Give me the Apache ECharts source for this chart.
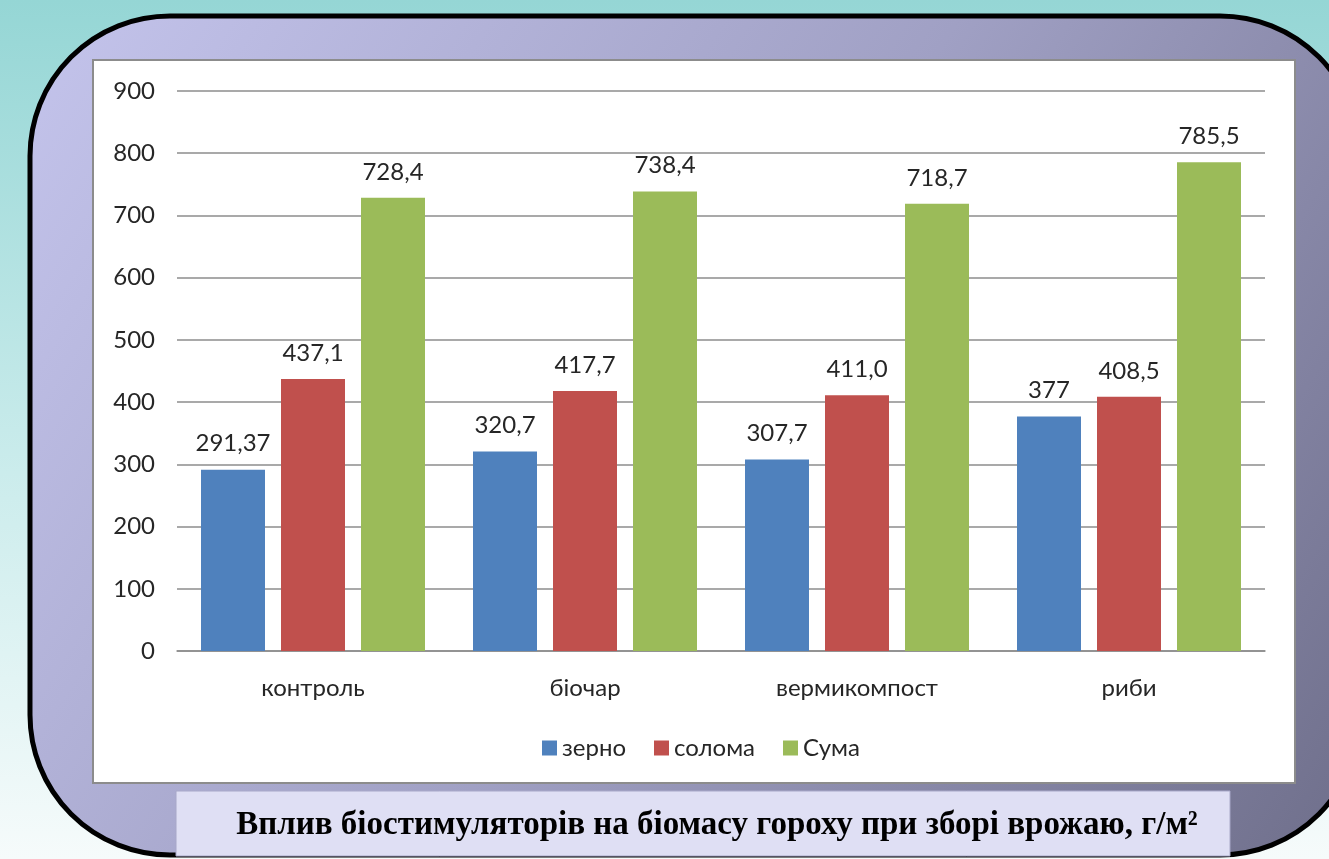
<!DOCTYPE html>
<html>
<head>
<meta charset="utf-8">
<script src="https://cdn.jsdelivr.net/npm/echarts@6/dist/echarts.min.js"></script>
<style>
  html, body { margin: 0; padding: 0; }
  #chart { width: 1329px; height: 859px; }
</style>
</head>
<body>
<div id="chart"></div>
<script>
const categories = ['контроль', 'біочар', 'вермикомпост', 'риби'];
const seriesNames = ['зерно', 'солома', 'Сума'];
const grain = [291.37, 320.7, 307.7, 377];
const straw = [437.1, 417.7, 411.0, 408.5];
const total = [728.4, 738.4, 718.7, 785.5];
// labels as printed on the picture (comma decimals)
const grainLabels = ['291,37', '320,7', '307,7', '377'];
const strawLabels = ['437,1', '417,7', '411,0', '408,5'];
const totalLabels = ['728,4', '738,4', '718,7', '785,5'];
const colors = ['#4f81bd', '#c0504d', '#9bbb59'];
const titleText = 'Вплив біостимуляторів на біомасу гороху при зборі врожаю, г/м²';

const font = 'Lato, "Open Sans", sans-serif';
const fs = 24;
const chart = echarts.init(document.getElementById('chart'));

function barSeries(name, values, labels, color) {
    return {
        name: name,
        type: 'bar',
        data: values,
        barWidth: 64,
        barGap: '25%',
        itemStyle: { color: color },
        label: {
            show: true,
            position: 'top',
            distance: 14,
            fontFamily: font,
            fontSize: fs,
            color: '#262626',
            formatter: p => labels[p.dataIndex]
        },
        z: 5
    };
}

const option = {
    animation: false,
    backgroundColor: {
        type: 'linear', x: 0, y: 0, x2: 0, y2: 1,
        colorStops: [
            { offset: 0, color: '#95d6d5' },
            { offset: 0.55, color: '#cbecec' },
            { offset: 1, color: '#f6fbfb' }
        ]
    },
    graphic: [
        {
            type: 'rect', z: -10,
            shape: { x: 30, y: 16, width: 1330, height: 839, r: 140 },
            style: {
                fill: {
                    type: 'linear', x: 0, y: 0, x2: 1, y2: 1,
                    colorStops: [
                        { offset: 0, color: '#c4c4ec' },
                        { offset: 0.5, color: '#a0a0c4' },
                        { offset: 1, color: '#6e6e8a' }
                    ]
                },
                stroke: '#000', lineWidth: 5
            }
        },
        {
            type: 'rect', z: -9,
            shape: { x: 93, y: 60, width: 1202, height: 723 },
            style: { fill: '#fff', stroke: '#8c8c8c', lineWidth: 2 }
        },
        {
            type: 'rect', z: -9,
            shape: { x: 176, y: 791, width: 1054, height: 65 },
            style: { fill: '#dfdff4', stroke: '#a8a8c8', lineWidth: 1 }
        },
        {
            type: 'text', z: 10,
            x: 717, y: 825,
            style: {
                text: titleText,
                fontFamily: '"Liberation Serif", serif',
                fontWeight: 'bold',
                fontSize: 33,
                fill: '#000',
                align: 'center',
                verticalAlign: 'middle'
            }
        }
    ],
    legend: {
        data: seriesNames,
        left: 537,
        top: 731,
        itemWidth: 15,
        itemHeight: 15,
        itemGap: 28,
        icon: 'rect',
        textStyle: { fontFamily: font, fontSize: fs, color: '#262626' }
    },
    grid: { left: 177, right: 64, top: 91, bottom: 208 },
    xAxis: {
        type: 'category',
        data: categories,
        axisTick: { show: false },
        axisLine: { lineStyle: { color: '#8c8c8c', width: 1.5 } },
        axisLabel: { margin: 25, fontFamily: font, fontSize: fs, color: '#262626' }
    },
    yAxis: {
        type: 'value',
        min: 0, max: 900, interval: 100,
        axisLine: { show: false },
        axisTick: { show: false },
        splitLine: { lineStyle: { color: '#8c8c8c', width: 1.5 } },
        axisLabel: { margin: 22, fontFamily: font, fontSize: fs, color: '#262626' }
    },
    series: [
        barSeries(seriesNames[0], grain, grainLabels, colors[0]),
        barSeries(seriesNames[1], straw, strawLabels, colors[1]),
        barSeries(seriesNames[2], total, totalLabels, colors[2])
    ]
};
chart.setOption(option);
</script>
</body>
</html>
